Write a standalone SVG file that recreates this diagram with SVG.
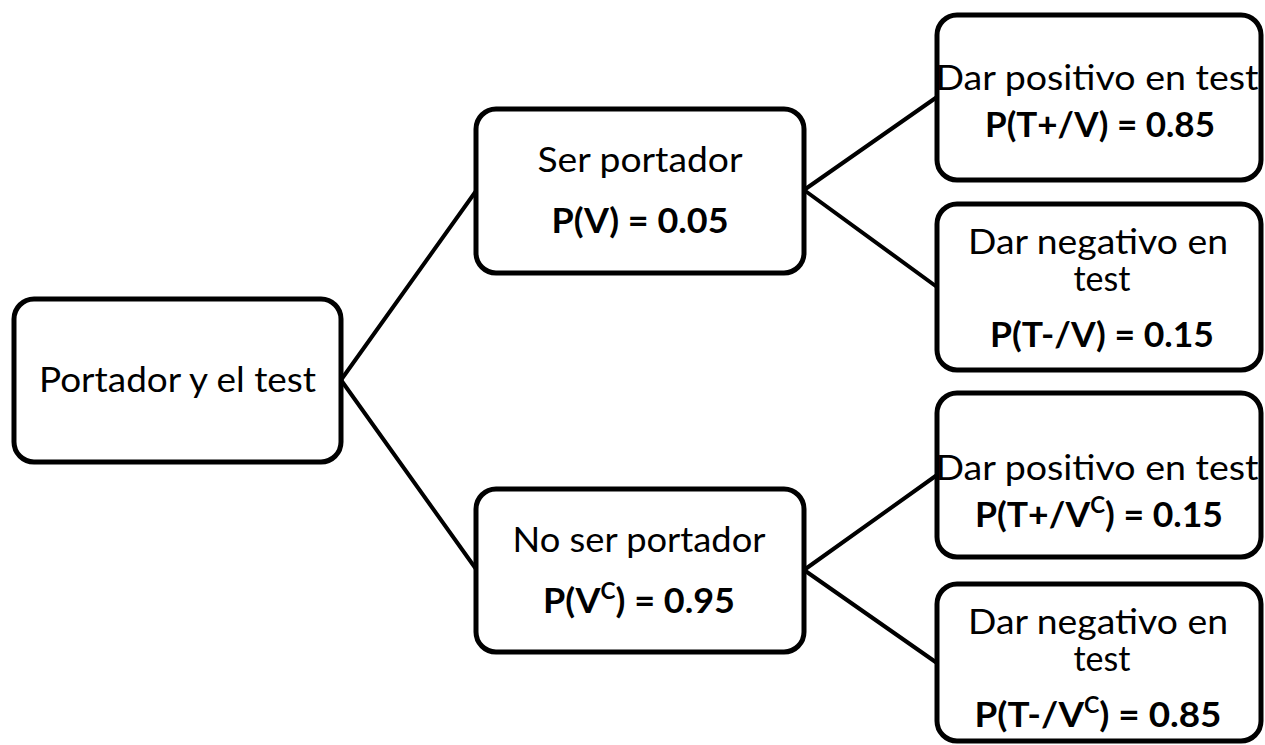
<svg xmlns="http://www.w3.org/2000/svg" width="1265" height="745" viewBox="0 0 1265 745">
<style>
.box{fill:#fff;stroke:#000;stroke-width:5}
.edge{stroke:#000;stroke-width:4;fill:none;stroke-linecap:round}
.t{font-family:Lato,"Open Sans","Liberation Sans",sans-serif;font-size:35px;fill:#000;text-anchor:middle}
.b{font-weight:bold}
.sup{font-size:22px}
</style>
<rect width="1265" height="745" fill="#fff"/>
<g id="connectors">
<line class="edge" x1="341" y1="380" x2="476" y2="191"/>
<line class="edge" x1="341" y1="380" x2="476" y2="569"/>
<line class="edge" x1="804" y1="190" x2="937" y2="97"/>
<line class="edge" x1="804" y1="190" x2="937" y2="287"/>
<line class="edge" x1="804" y1="570" x2="937" y2="475"/>
<line class="edge" x1="804" y1="570" x2="937" y2="663"/>
</g>
<g id="root">
<rect class="box" x="14" y="299" width="327" height="163" rx="20"/>
<text class="t" x="177.5" y="392" textLength="277" lengthAdjust="spacingAndGlyphs">Portador y el test</text>
</g>
<g id="ser">
<rect class="box" x="476" y="109" width="328" height="164" rx="20"/>
<text class="t" x="640" y="172" textLength="205" lengthAdjust="spacingAndGlyphs">Ser portador</text>
<text class="t b" x="640" y="233" textLength="177" lengthAdjust="spacingAndGlyphs">P(V) = 0.05</text>
</g>
<g id="noser">
<rect class="box" x="476" y="489" width="328" height="163" rx="20"/>
<text class="t" x="639" y="552" textLength="253" lengthAdjust="spacingAndGlyphs">No ser portador</text>
<text class="t b" x="639" y="613" textLength="192" lengthAdjust="spacingAndGlyphs">P(V<tspan class="sup" dy="-14">C</tspan><tspan dy="14">) = 0.95</tspan></text>
</g>
<g id="pos1">
<rect class="box" x="937" y="15" width="324" height="165" rx="20"/>
<text class="t" x="1097" y="90" textLength="323" lengthAdjust="spacingAndGlyphs">Dar positivo en test</text>
<text class="t b" x="1100" y="137" textLength="230" lengthAdjust="spacingAndGlyphs">P(T+/V) = 0.85</text>
</g>
<g id="neg1">
<rect class="box" x="937" y="204" width="324" height="166" rx="20"/>
<text class="t" x="1098" y="254" textLength="260" lengthAdjust="spacingAndGlyphs">Dar negativo en</text>
<text class="t" x="1102" y="291" textLength="57" lengthAdjust="spacingAndGlyphs">test</text>
<text class="t b" x="1102" y="347" textLength="224" lengthAdjust="spacingAndGlyphs">P(T-/V) = 0.15</text>
</g>
<g id="pos2">
<rect class="box" x="937" y="393" width="324" height="164" rx="20"/>
<text class="t" x="1097" y="480" textLength="323" lengthAdjust="spacingAndGlyphs">Dar positivo en test</text>
<text class="t b" x="1099" y="527" textLength="248" lengthAdjust="spacingAndGlyphs">P(T+/V<tspan class="sup" dy="-14">C</tspan><tspan dy="14">) = 0.15</tspan></text>
</g>
<g id="neg2">
<rect class="box" x="937" y="584" width="324" height="157" rx="20"/>
<text class="t" x="1098" y="634" textLength="260" lengthAdjust="spacingAndGlyphs">Dar negativo en</text>
<text class="t" x="1102" y="671" textLength="57" lengthAdjust="spacingAndGlyphs">test</text>
<text class="t b" x="1098" y="727" textLength="247" lengthAdjust="spacingAndGlyphs">P(T-/V<tspan class="sup" dy="-14">C</tspan><tspan dy="14">) = 0.85</tspan></text>
</g>
</svg>
